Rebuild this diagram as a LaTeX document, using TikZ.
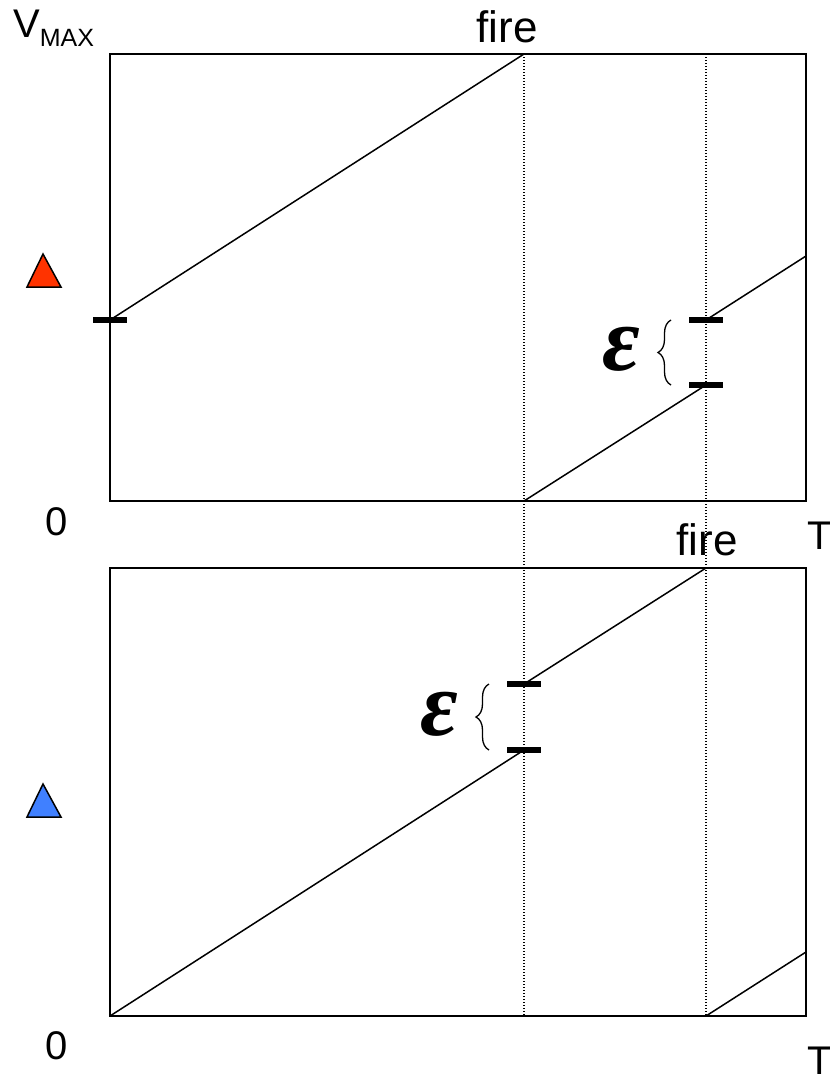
\documentclass[tikz,border=0pt]{standalone}
\usepackage{fontspec}
\setmainfont{Liberation Sans}
\newfontfamily\epsfont{Liberation Serif}
\usetikzlibrary{decorations.pathreplacing}
\definecolor{tred}{HTML}{FF3300}
\definecolor{tblue}{HTML}{4080FF}

\tikzset{
  plotbox/.style={line width=1.8pt},
  ramp/.style={line width=1.5pt},
  guide/.style={dash pattern=on 1.2pt off 1.8pt, line width=1.2pt},
  tickbar/.style={line width=6pt},
  lbl/.style={font=\fontsize{40}{44}\selectfont, inner sep=0pt},
  eps/.style={font=\epsfont\bfseries\itshape\fontsize{92}{96}\selectfont, inner sep=0pt},
  epsbrace/.style={decorate, decoration={brace, amplitude=13pt}, line width=1.3pt},
  neuron/.style={line width=1.5pt, line join=miter},
}

\begin{document}
\begin{tikzpicture}[x=1pt, y=-1pt]
\useasboundingbox (0,0) rectangle (830,1082);
% plot frames
\draw[plotbox] (110,54) rectangle (806,501);
\draw[plotbox] (110,568) rectangle (806,1016);
% firing times
\draw[guide] (524,54) -- (524,1016);
\draw[guide] (706,54) -- (706,1016);
% upper neuron
\draw[ramp] (110,320) -- (524,54);
\draw[ramp] (524,501) -- (706,385);
\draw[ramp] (706,320) -- (806,256);
\draw[tickbar] (93,320) -- (127,320);
\draw[tickbar] (689,320) -- (723,320);
\draw[tickbar] (689,385) -- (723,385);
\draw[epsbrace] (671,385) -- (671,320);
\node[eps] (eps1) at (621,349) {ε};
% lower neuron
\draw[ramp] (110,1016) -- (524,750);
\draw[ramp] (524,684) -- (706,568);
\draw[ramp] (706,1016) -- (806,952);
\draw[tickbar] (507,684) -- (541,684);
\draw[tickbar] (507,750) -- (541,750);
\draw[epsbrace] (489,750) -- (489,684);
\node[eps] (eps2) at (439,714) {ε};
% neuron markers
\draw[neuron, fill=tred] (27,287) -- (43,254) -- (61,287) -- cycle;
\draw[neuron, fill=tblue] (27,817) -- (43,784) -- (61,817) -- cycle;
% labels
\node[lbl, anchor=base west] (vmax) at (13,37)
  {V{\fontsize{25}{25}\selectfont\raisebox{-9pt}{MAX}}};
\node[lbl, anchor=base, font=\fontsize{44}{48}\selectfont] (fire1) at (507,42) {fire};
\node[lbl, anchor=base, font=\fontsize{44}{48}\selectfont] (fire2) at (707,555) {fire};
\node[lbl, anchor=base] (zero1) at (57,535) {0};
\node[lbl, anchor=base] (zero2) at (57,1059) {0};
\node[lbl, anchor=base west] (time1) at (807,549) {T};
\node[lbl, anchor=base west] (time2) at (807,1074) {T};
\end{tikzpicture}
\end{document}
